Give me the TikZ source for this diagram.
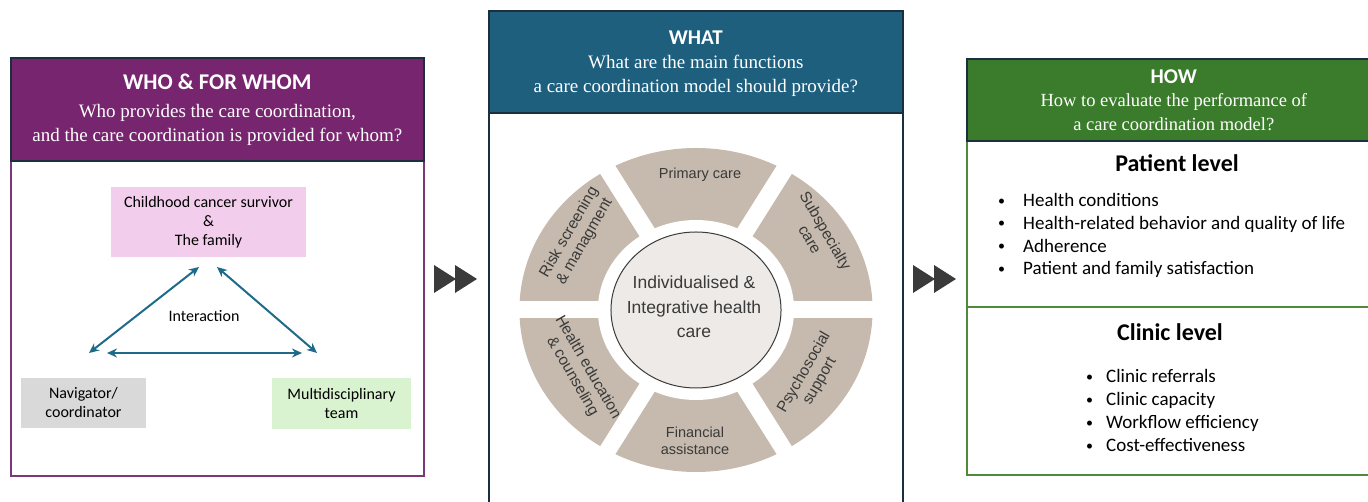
\documentclass[tikz,border=0pt]{standalone}
\usepackage{fontspec}
\setmainfont{Liberation Serif}
\newfontfamily\bodyfont{Carlito}
\newfontfamily\wheelfont{Liberation Sans}
\usetikzlibrary{arrows.meta,positioning}
\definecolor{WhoPurple}{HTML}{78256F}
\definecolor{WhoLine}{HTML}{7D3779}
\definecolor{WhatBlue}{HTML}{1E5F7E}
\definecolor{HowGreen}{HTML}{3B7C2C}
\definecolor{HowLine}{HTML}{4F8A3B}
\definecolor{HeadLine}{HTML}{1B2F3E}
\definecolor{FamilyPink}{HTML}{F2CEEC}
\definecolor{NavGray}{HTML}{D9D9D9}
\definecolor{TeamGreen}{HTML}{D9F2D0}
\definecolor{LinkBlue}{HTML}{1F6A8A}
\definecolor{SegBeige}{HTML}{C5BAAD}
\definecolor{CoreFill}{HTML}{EEEAE7}
\definecolor{WheelText}{HTML}{3A3A3A}
\definecolor{PlayGray}{HTML}{3A3A3A}
\newcommand{\smallbullet}{\raisebox{1.3pt}{\fontsize{14}{14}\selectfont\textbullet}}

\begin{document}
\begin{tikzpicture}[
  x=1pt, y=1pt,
  >=Stealth,
  every node/.style={inner sep=0pt},
  panel/.style={
    rectangle,
    anchor=north west,
    line width=2pt
  },
  headbox/.style={
    panel,
    draw=HeadLine,
    line width=1.6pt
  },
  title/.style={text=white, font=\bodyfont\bfseries\fontsize{21}{25}\selectfont},
  question/.style={text=white, align=center, font=\fontsize{19}{24}\selectfont},
  actor/.style={align=center, font=\bodyfont\fontsize{16}{19}\selectfont},
  link/.style={<->, draw=LinkBlue, line width=2pt, >={Stealth[length=10pt,width=9pt]}},
  segtext/.style={align=center, text=WheelText, font=\wheelfont\fontsize{14.5}{16.5}\selectfont},
  turned/.style={segtext, font=\wheelfont\fontsize{15.5}{18}\selectfont},
  level/.style={font=\bodyfont\bfseries\fontsize{24}{28}\selectfont},
  item/.style={anchor=base west, font=\bodyfont\fontsize{19}{23}\selectfont}
]
\useasboundingbox (0,0) rectangle (1368,502);

% Who & for whom
\node[panel, draw=WhoLine, minimum width=413, minimum height=315] (whobody) at (10,342) {};
\node[headbox, fill=WhoPurple, minimum width=413, minimum height=103] (whohead) at (10,445) {};
\node[title, font=\bodyfont\bfseries\fontsize{22.5}{26}\selectfont] (whotitle) at ([yshift=-25]whohead.north) {WHO \& FOR WHOM};
\node[question] (whoq) at ([yshift=-68]whohead.north) {Who provides the care coordination,\\and the care coordination is provided for whom?};

\node[actor, fill=FamilyPink, minimum width=195, minimum height=70] (family) at (208.5,280) {Childhood cancer survivor\\\&\\The family};
\node[actor, fill=NavGray, minimum width=125, minimum height=50] (navigator) at (83.5,99) {Navigator/\\coordinator};
\node[actor, fill=TeamGreen, minimum width=139, minimum height=51] (team) at (341.5,98.5) {Multidisciplinary\\team};
\node[actor] (interaction) at (204,186) {Interaction};

\coordinate (navtip) at (89,149);
\coordinate (navmid) at (107,149);
\coordinate (famleft) at (199,235);
\coordinate (famright) at (217,235);
\coordinate (teamtip) at (317,149);
\coordinate (teammid) at (302,149);
\draw[link] (navtip) -- (famleft);
\draw[link] (famright) -- (teamtip);
\draw[link] (navmid) -- (teammid);

% What
\node[panel, draw=HeadLine, minimum width=414, minimum height=400] (whatbody) at (488,390) {};
\node[headbox, fill=WhatBlue, minimum width=414, minimum height=102] (whathead) at (488,492) {};
\node[title] (whattitle) at ([yshift=-28]whathead.north) {WHAT};
\node[question] (whatq) at ([yshift=-65.5]whathead.north) {What are the main functions\\a care coordination model should provide?};

\begin{scope}[shift={(696,192)}, xscale=1.09]
  \fill[SegBeige] (0,0) circle (162);
  \fill[white] (0,0) circle (90);
  \foreach \a in {0,60,120}
    \draw[white, line width=17pt] (\a:172) -- (\a+180:172);
  \draw[fill=CoreFill, draw=WheelText, line width=1pt] (0,0) circle (78);
\end{scope}
\node[segtext, font=\wheelfont\fontsize{17.5}{24.5}\selectfont] (core) at (694,195) {Individualised \&\\Integrative health\\care};
\node[segtext] (primary) at (700,327) {Primary care};
\node[turned, rotate=-60] (subspec) at (818,267) {Subspecialty\\care};
\node[turned, rotate=60] (psycho) at (812,125) {Psychosocial\\support};
\node[segtext] (finance) at (695,61) {Financial\\assistance};
\node[turned, rotate=-60] (educ) at (580,130) {Health education\\\& counseling};
\node[turned, rotate=60] (risk) at (577,265) {Risk screening\\\& managment};

% How
\node[panel, draw=HowLine, minimum width=414, minimum height=166] (patbody) at (966,362) {};
\node[panel, draw=HowLine, minimum width=414, minimum height=168] (clinbody) at (966,196) {};
\node[headbox, fill=HowGreen, minimum width=414, minimum height=82] (howhead) at (966,444) {};
\node[title] (howtitle) at ([yshift=-19]howhead.north) {HOW};
\node[question, font=\fontsize{18.5}{24}\selectfont] (howq) at ([yshift=-54]howhead.north) {How to evaluate the performance of\\a care coordination model?};

\node[level] (patlevel) at (1177,339) {Patient level};
\foreach \t [count=\i] in {Health conditions,Health-related behavior and quality of life,Adherence,Patient and family satisfaction}
  \node[item] (pat\i) at (998,318.3-22.8*\i) {\makebox[25pt][l]{\smallbullet}\t};

\node[level] (clinlevel) at (1170,170) {Clinic level};
\foreach \t [count=\i] in {Clinic referrals,Clinic capacity,Workflow efficiency,Cost-effectiveness}
  \node[item] (clin\i) at (1086,142.5-23*\i) {\makebox[20pt][l]{\smallbullet}\t};

% Flèches
\foreach \x in {434,455,913,934}
  \fill[PlayGray] (\x,237) -- (\x,209) -- (\x+22,223) -- cycle;
\end{tikzpicture}
\end{document}
